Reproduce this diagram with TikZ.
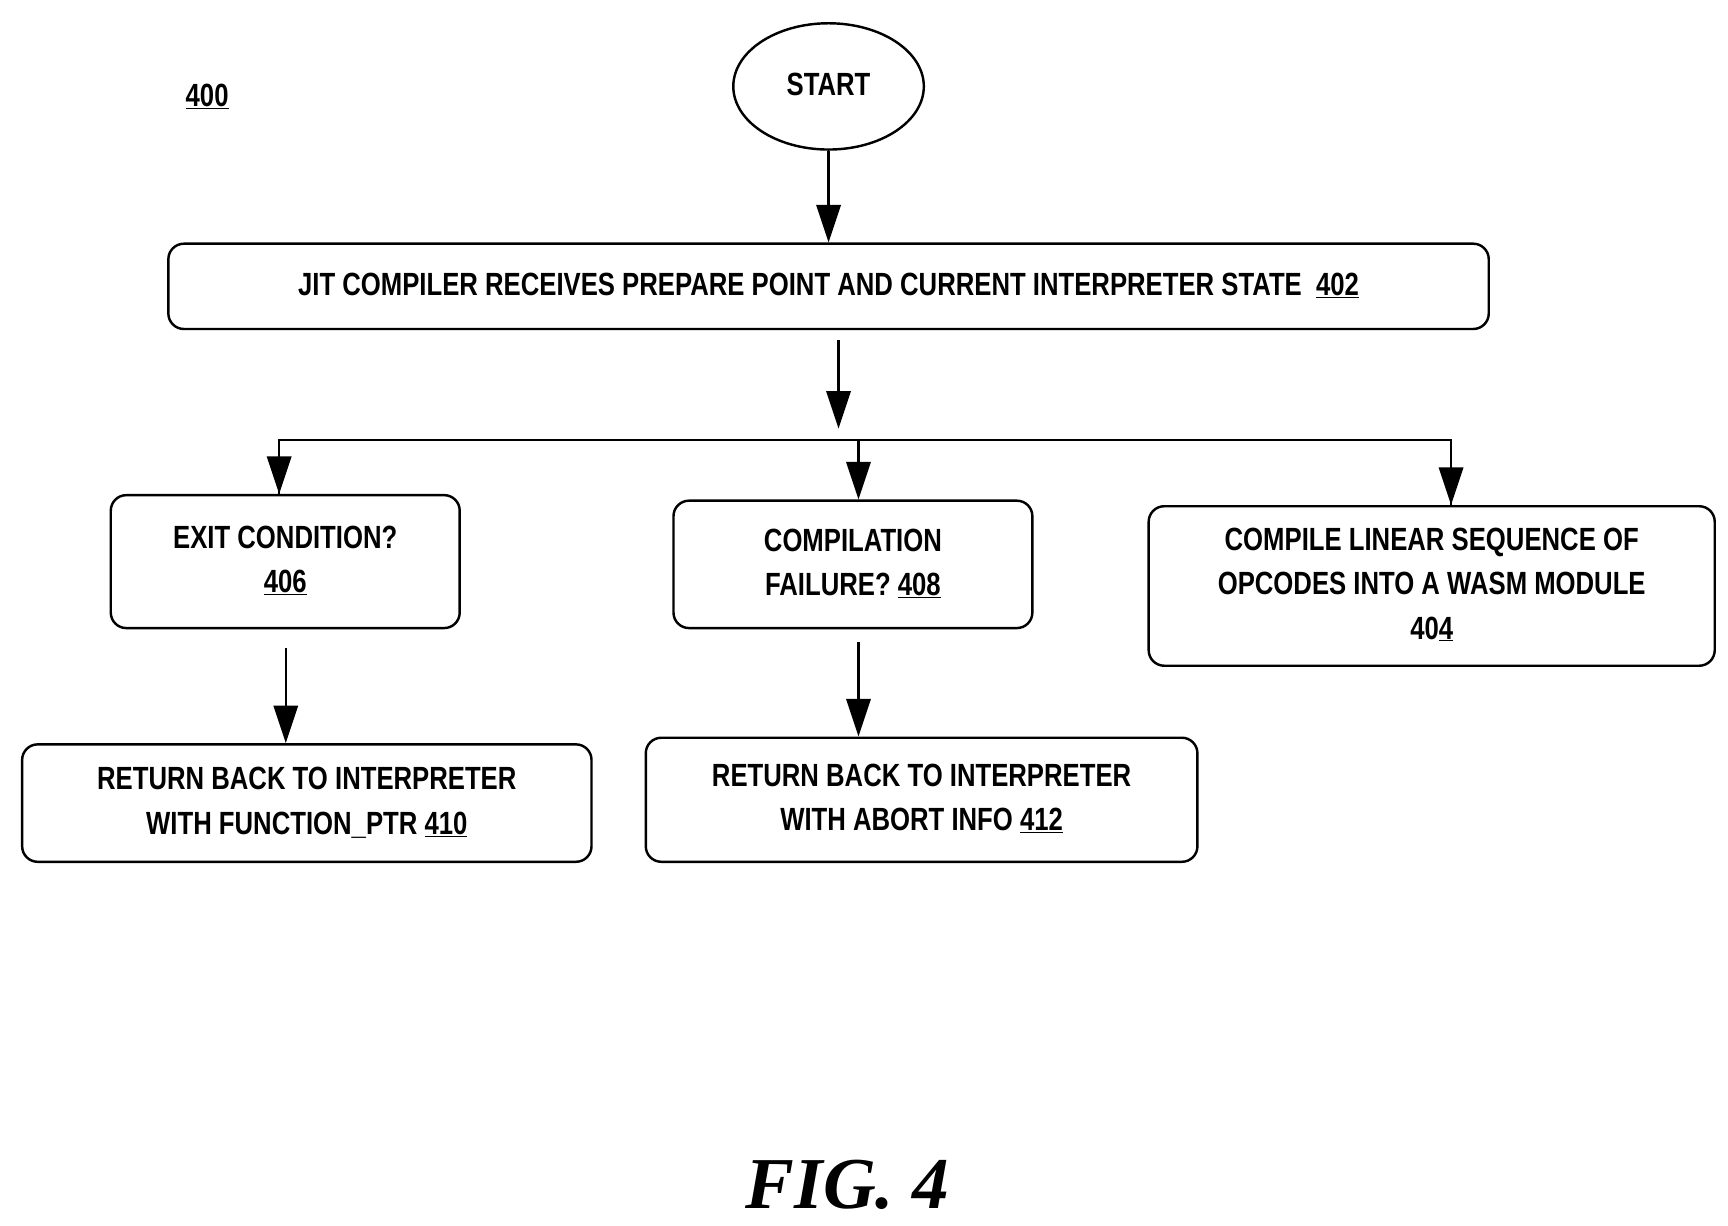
\documentclass[tikz,border=0pt]{standalone}
\usepackage{fontspec}
\setmainfont{Liberation Sans}
\newfontfamily\figfont{Liberation Serif}
\usetikzlibrary{arrows.meta,shapes.geometric}
\newcommand{\T}[1]{\scalebox{0.8}[1]{\begin{tabular}{@{}c@{}}#1\end{tabular}}}
\begin{document}
\begin{tikzpicture}[x=1pt,y=-1pt,
  box/.style={draw,line width=2.2pt,rounded corners=14pt,inner sep=0pt},
  arr/.style={line width=2.2pt,-{Triangle[length=34pt,width=22pt]}},
  ln/.style={line width=2.2pt},
  txt/.style={font=\bfseries\fontsize{29}{40}\selectfont,align=center}]
\useasboundingbox (0,0) rectangle (1560,1106);
\node[txt] (n400) at (187,88) {\T{\underline{400}}};
\node[draw,ellipse,line width=2.2pt,minimum width=172pt,minimum height=114pt] (start) at (748,78) {};
\node[txt] at (start) {\T{START}};
\node[box,minimum width=1192pt,minimum height=77pt] (b402) at (748,258.5) {};
\node[txt] at (b402) {\T{JIT COMPILER RECEIVES PREPARE POINT AND CURRENT INTERPRETER STATE\ \ \underline{402}}};
\node[box,minimum width=315pt,minimum height=120pt] (b406) at (257.5,507) {};
\node[txt] at (b406) {\T{EXIT CONDITION?\\\underline{406}}};
\node[box,minimum width=324pt,minimum height=115pt] (b408) at (770,509.5) {};
\node[txt] at (b408) {\T{COMPILATION\\FAILURE? \underline{408}}};
\node[box,minimum width=511pt,minimum height=144pt] (b404) at (1292.5,529) {};
\node[txt] at (b404) {\T{COMPILE LINEAR SEQUENCE OF\\OPCODES INTO A WASM MODULE\\40\underline{4}}};
\node[box,minimum width=514pt,minimum height=106pt] (b410) at (277,725) {};
\node[txt] at (b410) {\T{RETURN BACK TO INTERPRETER\\WITH FUNCTION\_PTR \underline{410}}};
\node[box,minimum width=498pt,minimum height=112pt] (b412) at (832,722) {};
\node[txt] at (b412) {\T{RETURN BACK TO INTERPRETER\\WITH ABORT INFO \underline{412}}};
\node[font=\figfont\bfseries\itshape\fontsize{66}{70}\selectfont] (fig) at (765,1070) {FIG. 4};
\coordinate (a1) at (757,307);
\coordinate (a2) at (757,387);
\coordinate (hl) at (252,397);
\coordinate (hr) at (1310,397);
\coordinate (c6) at (258,585);
\coordinate (c8) at (775,580);
\draw[arr] (start.south) -- (b402.north);
\draw[arr] (a1) -- (a2);
\draw[ln] (b406.north -| hl) -- (hl) -- (hr) -- (b404.north -| hr);
\draw[arr] (hl) -- (b406.north -| hl);
\draw[arr] (hr) -- (b404.north -| hr);
\draw[arr] (775,397) -- (b408.north -| 775,0);
\draw[arr] (c6) -- (b410.north -| c6);
\draw[arr] (c8) -- (b412.north -| c8);
\end{tikzpicture}
\end{document}
